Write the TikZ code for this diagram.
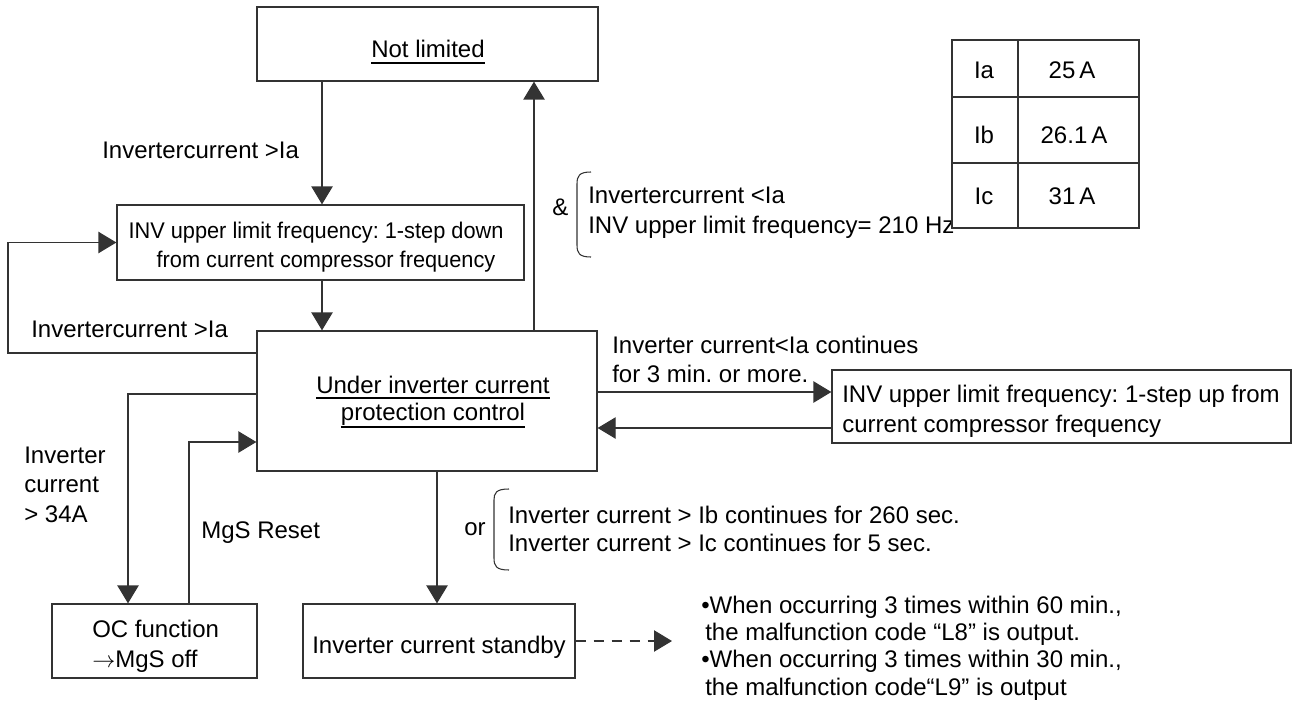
\documentclass[tikz,border=0pt]{standalone}
\usepackage{graphicx}
\usepackage{fontspec}
\setmainfont{Liberation Sans}
\usetikzlibrary{arrows.meta}
\frenchspacing
\newcommand{\myul}[2][4.5pt]{\setbox0\hbox{#2}\rlap{\smash{\rule[-#1]{\wd0}{1.5pt}}}\box0}
\newcommand{\cond}[2][0.96]{\scalebox{#1}[1]{#2}}
\begin{document}
\begin{tikzpicture}[x=0.75pt,y=-0.75pt,
  txt/.style={font=\fontsize{18}{21.75}\selectfont, inner sep=0pt},
  lt/.style={txt, anchor=base west},
  ct/.style={txt, anchor=base},
  box/.style={draw=black!80, line width=0.9pt, inner sep=0pt},
  ln/.style={draw=black!80, line width=0.9pt},
  arr/.style={ln, -{Triangle[length=13.5pt,width=16pt]}},
  brk/.style={draw=black!80, line width=0.8pt},
]
\useasboundingbox (0,0) rectangle (1293,710);

% boxes
\node[box, minimum width=255.75pt, minimum height=55.5pt] (notlim) at (427.5,44) {};
\node[box, minimum width=305.25pt, minimum height=56.25pt] (inv1) at (320.5,242.5) {};
\node[box, minimum width=255pt, minimum height=105pt] (under) at (427,401) {};
\node[box, minimum width=344.25pt, minimum height=54.75pt] (inv2) at (1061.5,406.5) {};
\node[box, minimum width=153.75pt, minimum height=55.5pt] (oc) at (154.5,641) {};
\node[box, minimum width=204pt, minimum height=55.5pt] (standby) at (439,641) {};

% box texts
\node[ct] (tnotlim) at (428,58) {\myul{Not limited}};
\node[ct, font=\fontsize{17}{21}\selectfont] (tinv1a) at (316,238) {\cond{INV upper limit frequency: 1-step down}};
\node[ct, font=\fontsize{17}{21}\selectfont] (tinv1b) at (326,267) {\cond{from current compressor frequency}};
\node[ct] (tunda) at (433,393) {\myul[4.5pt]{Under inverter current}};
\node[ct] (tundb) at (433,420) {\myul[6pt]{protection control}};
\node[lt] (tinv2a) at (842,402) {INV upper limit frequency: 1-step up from};
\node[lt] (tinv2b) at (842,432) {current compressor frequency};
\node[lt] (toca) at (92,637) {OC function};
\node[lt] (tocb) at (92,667) {$\rightarrow$MgS off};
\node[ct] (tstb) at (439,653) {Inverter current standby};

% helper coordinates
\coordinate (xA) at (322,0);
\coordinate (xB) at (534,0);
\coordinate (xC) at (437,0);
\coordinate (xD) at (128,0);
\coordinate (xE) at (189,0);
\coordinate (yA) at (0,353);
\coordinate (yB) at (0,392);
\coordinate (yC) at (0,428);
\coordinate (yD) at (0,394);
\coordinate (yE) at (0,442);
\coordinate (loopx) at (8,0);
\coordinate (dend) at (672,641);

% connectors
\draw[arr] (notlim.south -| xA) -- (inv1.north -| xA);
\draw[arr] (inv1.south -| xA) -- (under.north -| xA);
\draw[arr] (under.north -| xB) -- (notlim.south -| xB);
\draw[arr] (under.west |- yA) -| (loopx |- inv1.west) -- (inv1.west);
\draw[arr] (under.east |- yB) -- (inv2.west |- yB);
\draw[arr] (inv2.west |- yC) -- (under.east |- yC);
\draw[arr] (under.west |- yD) -| (oc.north -| xD);
\draw[arr] (oc.north -| xE) |- (under.west |- yE);
\draw[arr] (under.south -| xC) -- (standby.north -| xC);
\draw[arr, dash pattern=on 7.5pt off 6pt] (standby.east) -- (dend);

% labels
\node[lt] (l1) at (102,158) {Invertercurrent >Ia};
\node[lt] (l2) at (31,337) {Invertercurrent >Ia};
\node[lt] (amp) at (552,215) {\&};
\node[lt] (c1) at (588,203) {Invertercurrent <Ia};
\node[lt] (c2) at (588,233) {INV upper limit frequency= 210 Hz};
\draw[brk] (591,172) .. controls (579,172) and (577,176) .. (577,184) -- (577,245) .. controls (577,253) and (579,257) .. (591,257);
\node[lt] (k1) at (612,353) {Inverter current<Ia continues};
\node[lt] (k2) at (612,382) {for 3 min. or more.};
\node[lt] (i1) at (24,463) {Inverter};
\node[lt] (i2) at (24,492) {current};
\node[lt] (i3) at (24,522) {> 34A};
\node[lt] (mgs) at (201,538) {MgS Reset};
\node[lt] (or) at (464,535) {or};
\draw[brk] (509,489) .. controls (496,489) and (494,493) .. (494,500) -- (494,558) .. controls (494,566) and (496,570) .. (509,570);
\node[lt] (o1) at (508,523) {Inverter current > Ib continues for 260 sec.};
\node[lt] (o2) at (508,551) {Inverter current > Ic continues for 5 sec.};

% notes
\node[lt] (b1) at (701,613) {•When occurring 3 times within 60 min.,};
\node[lt] (b2) at (705,640) {the malfunction code “L8” is output.};
\node[lt] (b3) at (701,667) {•When occurring 3 times within 30 min.,};
\node[lt] (b4) at (705,695) {the malfunction code“L9” is output};

% table
\draw[ln] (952,40) rectangle (1139,228);
\draw[ln] (1018,40) -- (1018,228);
\draw[ln] (952,97) -- (1139,97);
\draw[ln] (952,163) -- (1139,163);
\node[ct] (ta) at (984,79) {Ia};
\node[ct] (tav) at (1072,79) {25\,A};
\node[ct] (tb) at (984,143) {Ib};
\node[ct] (tbv) at (1074,143) {26.1\,A};
\node[ct] (tc) at (984,204) {Ic};
\node[ct] (tcv) at (1072,204) {31\,A};
\end{tikzpicture}
\end{document}
